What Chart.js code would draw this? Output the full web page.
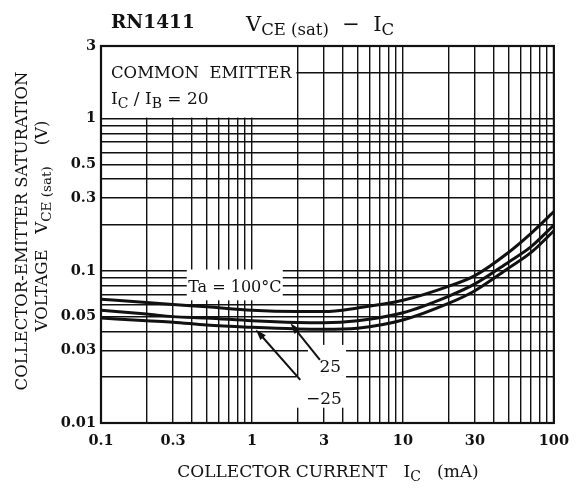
<!DOCTYPE html>
<html>
<head>
<meta charset="utf-8">
<script src="https://cdn.jsdelivr.net/npm/chart.js@4.4.0/dist/chart.umd.min.js"></script>
<style>
  html, body { margin: 0; padding: 0; background: #fff; }
  canvas { display: block; }
</style>
</head>
<body>
<canvas id="vceChart" width="579" height="492"></canvas>
<script>
// collector current IC (mA)
const currentMA = [0.1, 0.2, 0.3, 0.5, 1, 2, 3, 5, 10, 20, 30, 50, 70, 100];
// VCE(sat) (V)
const vce100 = [0.065, 0.062, 0.060, 0.058, 0.055, 0.054, 0.054, 0.057, 0.064, 0.079, 0.093, 0.132, 0.175, 0.245];
const vce25 = [0.055, 0.052, 0.050, 0.049, 0.047, 0.0458, 0.0456, 0.047, 0.053, 0.068, 0.082, 0.114, 0.143, 0.200];
const vceMinus25 = [0.049, 0.047, 0.046, 0.044, 0.0425, 0.0415, 0.0413, 0.042, 0.0475, 0.061, 0.074, 0.104, 0.131, 0.183];

// grid lines and the ones that carry a label
const xGrid = [0.1, 0.2, 0.3, 0.4, 0.5, 0.6, 0.7, 0.8, 0.9, 1, 2, 3, 4, 5, 6, 7, 8, 9,
  10, 20, 30, 40, 50, 60, 70, 80, 90, 100];
const yGrid = [0.01, 0.02, 0.03, 0.04, 0.05, 0.06, 0.07, 0.08, 0.09,
  0.1, 0.2, 0.3, 0.4, 0.5, 0.6, 0.7, 0.8, 0.9, 1, 2, 3];
const xLabeled = [0.1, 0.3, 1, 3, 10, 30, 100];
const yLabeled = [0.01, 0.03, 0.05, 0.1, 0.3, 0.5, 1, 3];

const INK = '#111';
const SERIF = "'DejaVu Serif', serif";

function toPoints(ys) {
  return currentMA.map((x, i) => ({ x, y: ys[i] }));
}

function curve(ys) {
  return {
    data: toPoints(ys),
    showLine: true,
    borderColor: INK,
    borderWidth: 3,
    pointRadius: 0,
    cubicInterpolationMode: 'monotone',
    fill: false
  };
}

// draws a run of text pieces, some of them subscripts
function richText(ctx, x, y, parts, align) {
  const fontOf = p => `${p.bold ? 'bold ' : ''}${p.size}px ${SERIF}`;
  let total = 0;
  parts.forEach(p => { ctx.font = fontOf(p); total += ctx.measureText(p.t).width; });
  let cx = align === 'center' ? x - total / 2 : (align === 'right' ? x - total : x);
  ctx.textAlign = 'left';
  ctx.textBaseline = 'alphabetic';
  parts.forEach(p => {
    ctx.font = fontOf(p);
    ctx.fillText(p.t, cx, y + (p.dy || 0));
    cx += ctx.measureText(p.t).width;
  });
}

function arrow(ctx, x1, y1, x2, y2) {
  const ang = Math.atan2(y2 - y1, x2 - x1);
  const len = 11, half = 3.6;
  ctx.beginPath();
  ctx.moveTo(x1, y1);
  ctx.lineTo(x2 - Math.cos(ang) * len * 0.8, y2 - Math.sin(ang) * len * 0.8);
  ctx.lineWidth = 2;
  ctx.strokeStyle = INK;
  ctx.stroke();
  ctx.beginPath();
  ctx.moveTo(x2, y2);
  ctx.lineTo(x2 - Math.cos(ang) * len + Math.sin(ang) * half, y2 - Math.sin(ang) * len - Math.cos(ang) * half);
  ctx.lineTo(x2 - Math.cos(ang) * len - Math.sin(ang) * half, y2 - Math.sin(ang) * len + Math.cos(ang) * half);
  ctx.closePath();
  ctx.fillStyle = INK;
  ctx.fill();
}

const overlay = {
  id: 'overlay',
  beforeDatasetsDraw(chart) {
    const { ctx, scales: { x, y } } = chart;
    const px = v => x.getPixelForValue(v);
    const py = v => y.getPixelForValue(v);
    ctx.save();
    ctx.fillStyle = '#fff';
    // box for the test condition, grid-free
    ctx.fillRect(px(0.1) + 1, py(3) + 1, px(2) - px(0.1) - 2, py(1) - py(3) - 2);
    // behind "Ta = 100°C"
    ctx.fillRect(px(0.37), py(0.102), px(1.6) - px(0.37), py(0.064) - py(0.102));
    // behind "25" and "-25"
    ctx.fillRect(px(2.35), py(0.0326), px(4.2) - px(2.35), py(0.0204) - py(0.0326));
    ctx.fillRect(px(1.97), py(0.0204), px(4.2) - px(1.97), py(0.0126) - py(0.0204));
    ctx.restore();
  },
  afterDatasetsDraw(chart) {
    const { ctx, chartArea: a, scales: { x, y } } = chart;
    const px = v => x.getPixelForValue(v);
    const py = v => y.getPixelForValue(v);
    ctx.save();
    ctx.fillStyle = INK;
    richText(ctx, a.left + 10, a.top + 32, [{ t: 'COMMON  EMITTER', size: 16.5 }], 'left');
    richText(ctx, a.left + 10, a.top + 58, [
      { t: 'I', size: 17 }, { t: 'C', size: 14, dy: 4 }, { t: ' / I', size: 17 },
      { t: 'B', size: 14, dy: 4 }, { t: ' = 20', size: 17 }
    ], 'left');
    richText(ctx, px(0.77), py(0.0795) + 6, [{ t: 'Ta = 100°C', size: 16 }], 'center');
    richText(ctx, px(3.3), py(0.024) + 7, [{ t: '25', size: 17 }], 'center');
    richText(ctx, px(3.0), py(0.0148) + 7, [{ t: '\u221225', size: 17 }], 'center');
    arrow(ctx, px(2.82), py(0.026), px(1.8), py(0.0452));
    arrow(ctx, px(2.09), py(0.0192), px(1.06), py(0.0412));

    // frame
    ctx.lineWidth = 2.2;
    ctx.strokeStyle = INK;
    ctx.strokeRect(a.left, a.top, a.right - a.left, a.bottom - a.top);

    // titles
    ctx.fillStyle = INK;
    richText(ctx, 111, 28, [{ t: 'RN1411', size: 18.5, bold: true }], 'left');
    richText(ctx, 246, 31, [
      { t: 'V', size: 21 }, { t: 'CE (sat)', size: 16.5, dy: 4 },
      { t: '  \u2212  ', size: 21 }, { t: 'I', size: 21 }, { t: 'C', size: 16.5, dy: 4 }
    ], 'left');
    richText(ctx, 328, 477, [
      { t: 'COLLECTOR CURRENT   I', size: 17 }, { t: 'C', size: 14, dy: 4 },
      { t: '   (mA)', size: 17 }
    ], 'center');

    ctx.translate(27, 231);
    ctx.rotate(-Math.PI / 2);
    richText(ctx, 0, 0, [{ t: 'COLLECTOR-EMITTER SATURATION', size: 16.5 }], 'center');
    ctx.rotate(Math.PI / 2);
    ctx.translate(20, -5);
    ctx.rotate(-Math.PI / 2);
    richText(ctx, 0, 0, [
      { t: 'VOLTAGE   V', size: 16.5 }, { t: 'CE (sat)', size: 13.5, dy: 4 },
      { t: '    (V)', size: 16.5 }
    ], 'center');
    ctx.restore();
  }
};

const ctx = document.getElementById('vceChart').getContext('2d');
const chart = new Chart(ctx, {
  type: 'scatter',
  data: {
    datasets: [curve(vce100), curve(vce25), curve(vceMinus25)]
  },
  options: {
    responsive: false,
    animation: false,
    devicePixelRatio: 1,
    layout: { padding: { top: 46, right: 21, left: 0, bottom: 0 } },
    plugins: { legend: { display: false }, tooltip: { enabled: false } },
    scales: {
      x: {
        type: 'logarithmic',
        min: 0.1,
        max: 100,
        afterBuildTicks: axis => { axis.ticks = xGrid.map(v => ({ value: v })); },
        afterFit: axis => { axis.height = 69; },
        grid: { color: INK, lineWidth: 1.4, drawTicks: false },
        border: { display: false },
        ticks: {
          autoSkip: false,
          maxRotation: 0,
          padding: 10,
          color: INK,
          font: { family: SERIF, size: 14.5, weight: 'bold' },
          callback: v => (xLabeled.includes(v) ? String(v) : '')
        }
      },
      y: {
        type: 'logarithmic',
        min: 0.01,
        max: 3,
        afterBuildTicks: axis => { axis.ticks = yGrid.map(v => ({ value: v })); },
        afterFit: axis => { axis.width = 101; },
        grid: { color: INK, lineWidth: 1.4, drawTicks: false },
        border: { display: false },
        ticks: {
          autoSkip: false,
          padding: 5,
          color: INK,
          font: { family: SERIF, size: 14.5, weight: 'bold' },
          callback: v => (yLabeled.includes(v) ? String(v) : '')
        }
      }
    }
  },
  plugins: [overlay]
});
</script>
</body>
</html>
